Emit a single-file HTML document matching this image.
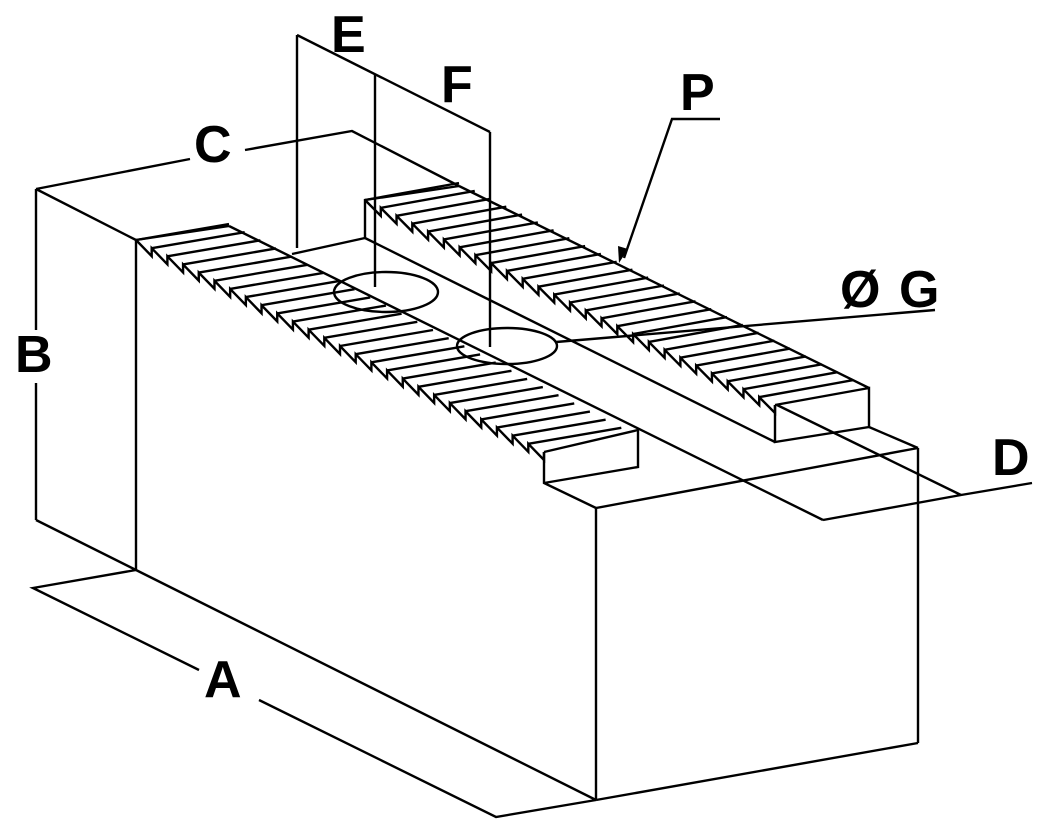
<!DOCTYPE html>
<html><head><meta charset="utf-8"><style>
html,body{margin:0;padding:0;background:#fff;}
svg{display:block;}
text{font-family:"Liberation Sans",Arial,sans-serif;font-weight:bold;font-size:52px;fill:#000;}
</style></head><body>
<svg id="s" width="1053" height="832" viewBox="0 0 1053 832" xmlns="http://www.w3.org/2000/svg">
<g fill="none" stroke="#000" stroke-width="2.4" stroke-linejoin="miter" id="g">
<line x1="36" y1="189" x2="136" y2="240"/>
<line x1="36" y1="189" x2="36" y2="330"/>
<line x1="36" y1="383" x2="36" y2="520"/>
<line x1="36" y1="520" x2="136" y2="570"/>
<line x1="136" y1="240" x2="136" y2="570"/>
<line x1="136" y1="570" x2="596" y2="800"/>
<line x1="596" y1="508" x2="596" y2="800"/>
<line x1="596" y1="800" x2="918" y2="743"/>
<line x1="918" y1="448" x2="918" y2="743"/>
<line x1="596" y1="508" x2="918" y2="448"/>
<line x1="869" y1="427" x2="918" y2="448"/>
<polyline points="36,189 190,159"/>
<polyline points="245,150 352,131 459,186"/>
<line x1="136" y1="240" x2="229" y2="226"/>
<line x1="229" y1="226" x2="823" y2="520"/>
<polyline points="544,452 544,483 596,508"/>
<polyline points="544,452 638,430 638,467 544,483"/>
<polyline points="459,186 365,200 365,238"/>
<line x1="459" y1="186" x2="869" y2="388"/>
<polyline points="775,405 869,388 869,427 775,442 775,405"/>
<line x1="292" y1="254" x2="365" y2="238"/>
<line x1="365" y1="238" x2="775" y2="442"/>
<line x1="777" y1="405" x2="961" y2="495"/>
<polyline points="823,520 961,495 1032,483"/>
<ellipse cx="386" cy="292" rx="52" ry="20"/>
<ellipse cx="507" cy="346" rx="50" ry="18"/>
<line x1="297" y1="35" x2="297" y2="248"/>
<line x1="297" y1="35" x2="490" y2="132"/>
<line x1="375" y1="74" x2="375" y2="287"/>
<line x1="490" y1="132" x2="490" y2="347"/>
<polyline points="720,119 672,119 624,258"/>
<line x1="935" y1="310" x2="556" y2="342"/>
<polyline points="136,570 33,588 199,670"/>
<polyline points="259,700 496,817 596,800"/>
</g>
<polygon points="619,263 618,246 628,249" fill="#000"/>
<text x="331" y="52">E</text>
<text x="441" y="102">F</text>
<text x="680" y="110">P</text>
<text x="194" y="162">C</text>
<text x="15" y="372">B</text>
<text x="204" y="697">A</text>
<text x="992" y="475">D</text>
<text x="840" y="307">Ø</text>
<text x="899" y="307">G</text>
</svg>
<script>
(function(){
var g=document.getElementById('g');var ns='http://www.w3.org/2000/svg';
function rib(x0,y0,x1,y1,vx,vy,n){
  var pts=[];var dx=(x1-x0)/n,dy=(y1-y0)/n;
  for(var i=0;i<=n;i++){
    var px=x0+dx*i,py=y0+dy*i;
    if(i>0){pts.push((px)+','+(py+8));}
    pts.push(px+','+py);
    if(i<n){var l=document.createElementNS(ns,'line');
      l.setAttribute('x1',px);l.setAttribute('y1',py);
      l.setAttribute('x2',px+vx);l.setAttribute('y2',py+vy);g.appendChild(l);}
  }
  var p=document.createElementNS(ns,'polyline');p.setAttribute('points',pts.join(' '));g.appendChild(p);
}
rib(136,240,544,452,93,-16,26);
rib(365,200,775,405,94,-17,26);
})();
</script>
</body></html>
